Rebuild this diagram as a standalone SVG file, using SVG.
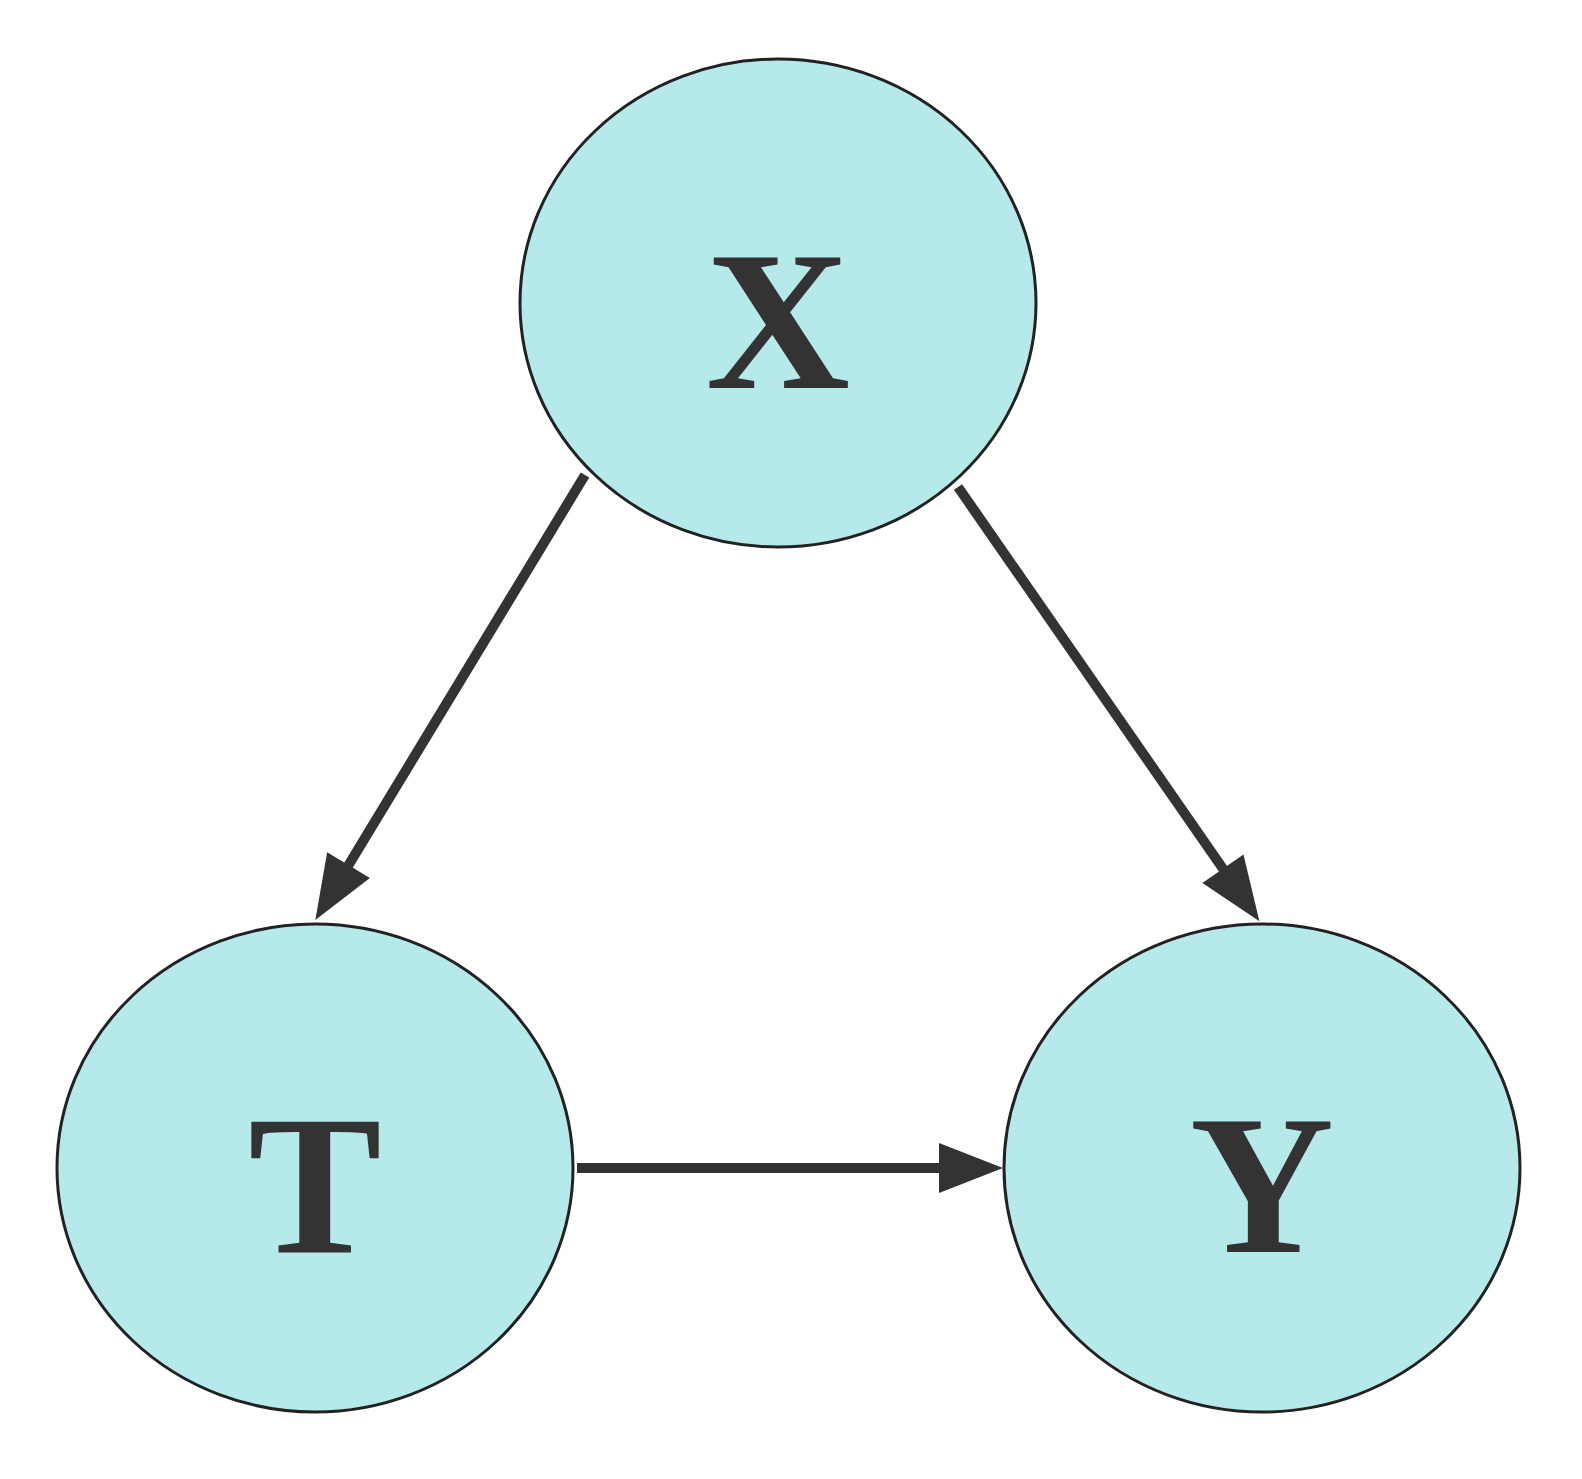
<svg xmlns="http://www.w3.org/2000/svg" width="1582" height="1479" viewBox="0 0 1582 1479">
<style>
.n{fill:#b6eaea;stroke:#222;stroke-width:3}
.t{font-family:"Liberation Serif",serif;font-weight:bold;font-size:200px;fill:#333;text-anchor:middle}
.e{stroke:#333;stroke-width:10;fill:none}
</style>
<defs>
<marker id="a" markerUnits="userSpaceOnUse" markerWidth="70" markerHeight="60" refX="1" refY="25" orient="auto" overflow="visible">
<path d="M0,0 L64,25 L0,50 Z" fill="#333"/>
</marker>
</defs>
<rect width="1582" height="1479" fill="#fff"/>
<g id="edges">
<line class="e" x1="585" y1="475" x2="348" y2="866" marker-end="url(#a)"/>
<line class="e" x1="958" y1="487" x2="1223.5" y2="869.5" marker-end="url(#a)"/>
<line class="e" x1="577" y1="1168" x2="940" y2="1168" marker-end="url(#a)"/>
</g>
<g id="X"><ellipse class="n" cx="778" cy="303" rx="258" ry="244"/><text class="t" x="778" y="388">X</text></g>
<g id="T"><ellipse class="n" cx="315" cy="1168" rx="258" ry="244"/><text class="t" x="315" y="1252">T</text></g>
<g id="Y"><ellipse class="n" cx="1262" cy="1168" rx="258" ry="244"/><text class="t" x="1262" y="1252">Y</text></g>
</svg>
